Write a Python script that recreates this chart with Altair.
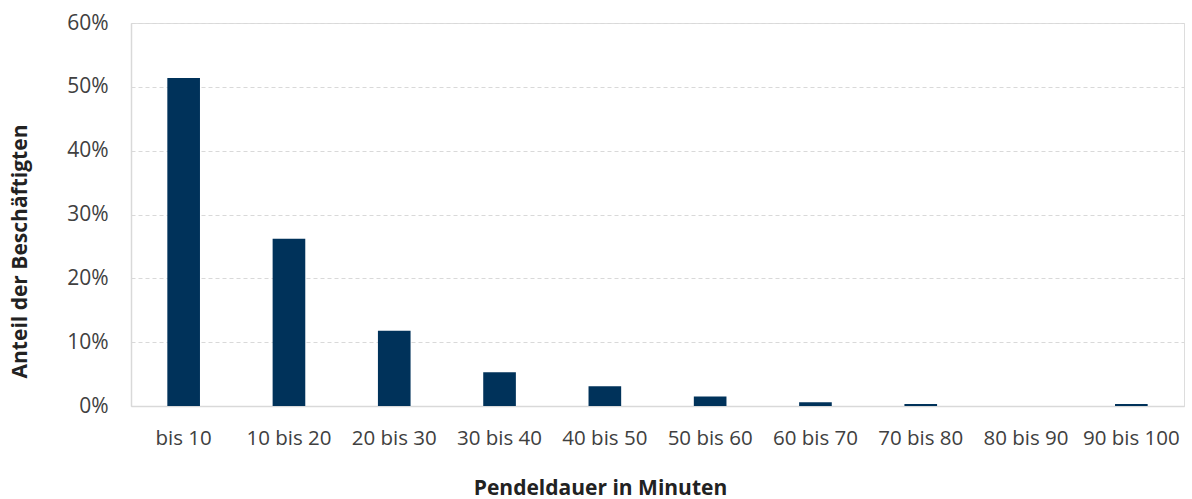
import altair as alt
import pandas as pd

# Commute duration classes and share of employees (in percent)
categories = ["bis 10", "10 bis 20", "20 bis 30", "30 bis 40", "40 bis 50",
              "50 bis 60", "60 bis 70", "70 bis 80", "80 bis 90", "90 bis 100"]
shares = [51.4, 26.2, 11.8, 5.3, 3.1, 1.5, 0.6, 0.3, 0.0, 0.3]

df = pd.DataFrame({"Klasse": categories, "Anteil": [v / 100 for v in shares]})

FONT = "Open Sans"
TEXT = "#404040"
W, H = 1053, 383

chart = alt.Chart(df).mark_bar(color="#00325A").encode(
    x=alt.X(
        "Klasse:N",
        sort=categories,
        scale=alt.Scale(paddingInner=0.69, paddingOuter=0.345),
        axis=alt.Axis(
            title="Pendeldauer in Minuten",
            labelAngle=0,
            labelFont=FONT,
            labelFontSize=20.5,
            labelColor=TEXT,
            labelPadding=22,
            ticks=False,
            domainColor="#d9d9d9",
            domainWidth=1.5,
            titleFont=FONT,
            titleFontSize=21,
            titleFontWeight="bold",
            titleColor="#222222",
            titleX=469,
            titleY=82,
            titleBaseline="middle",
            titleAnchor="middle",
        ),
    ),
    y=alt.Y(
        "Anteil:Q",
        scale=alt.Scale(domain=[0, 0.6], nice=False),
        axis=alt.Axis(
            title="Anteil der Beschäftigten",
            format=".0%",
            values=[0, 0.1, 0.2, 0.3, 0.4, 0.5, 0.6],
            labelFont=FONT,
            labelFontSize=21,
            labelColor=TEXT,
            labelPadding=23,
            ticks=False,
            domainColor="#d9d9d9",
            domainWidth=1.5,
            grid=True,
            gridColor="#d9d9d9",
            gridDash=[4, 3],
            gridWidth=1,
            titleFont=FONT,
            titleFontSize=21,
            titleFontWeight="bold",
            titleColor="#222222",
            titleAngle=-90,
            titleX=-111,
            titleY=228,
            titleBaseline="middle",
            titleAlign="center",
        ),
    ),
).properties(
    width=W,
    height=H,
    autosize=alt.AutoSizeParams(type="none"),
    padding={"left": 131, "top": 23, "right": 8, "bottom": 93},
).configure_view(stroke=None).configure(background="white")

chart.save("out.html", embed_options={"renderer": "svg", "actions": False})
